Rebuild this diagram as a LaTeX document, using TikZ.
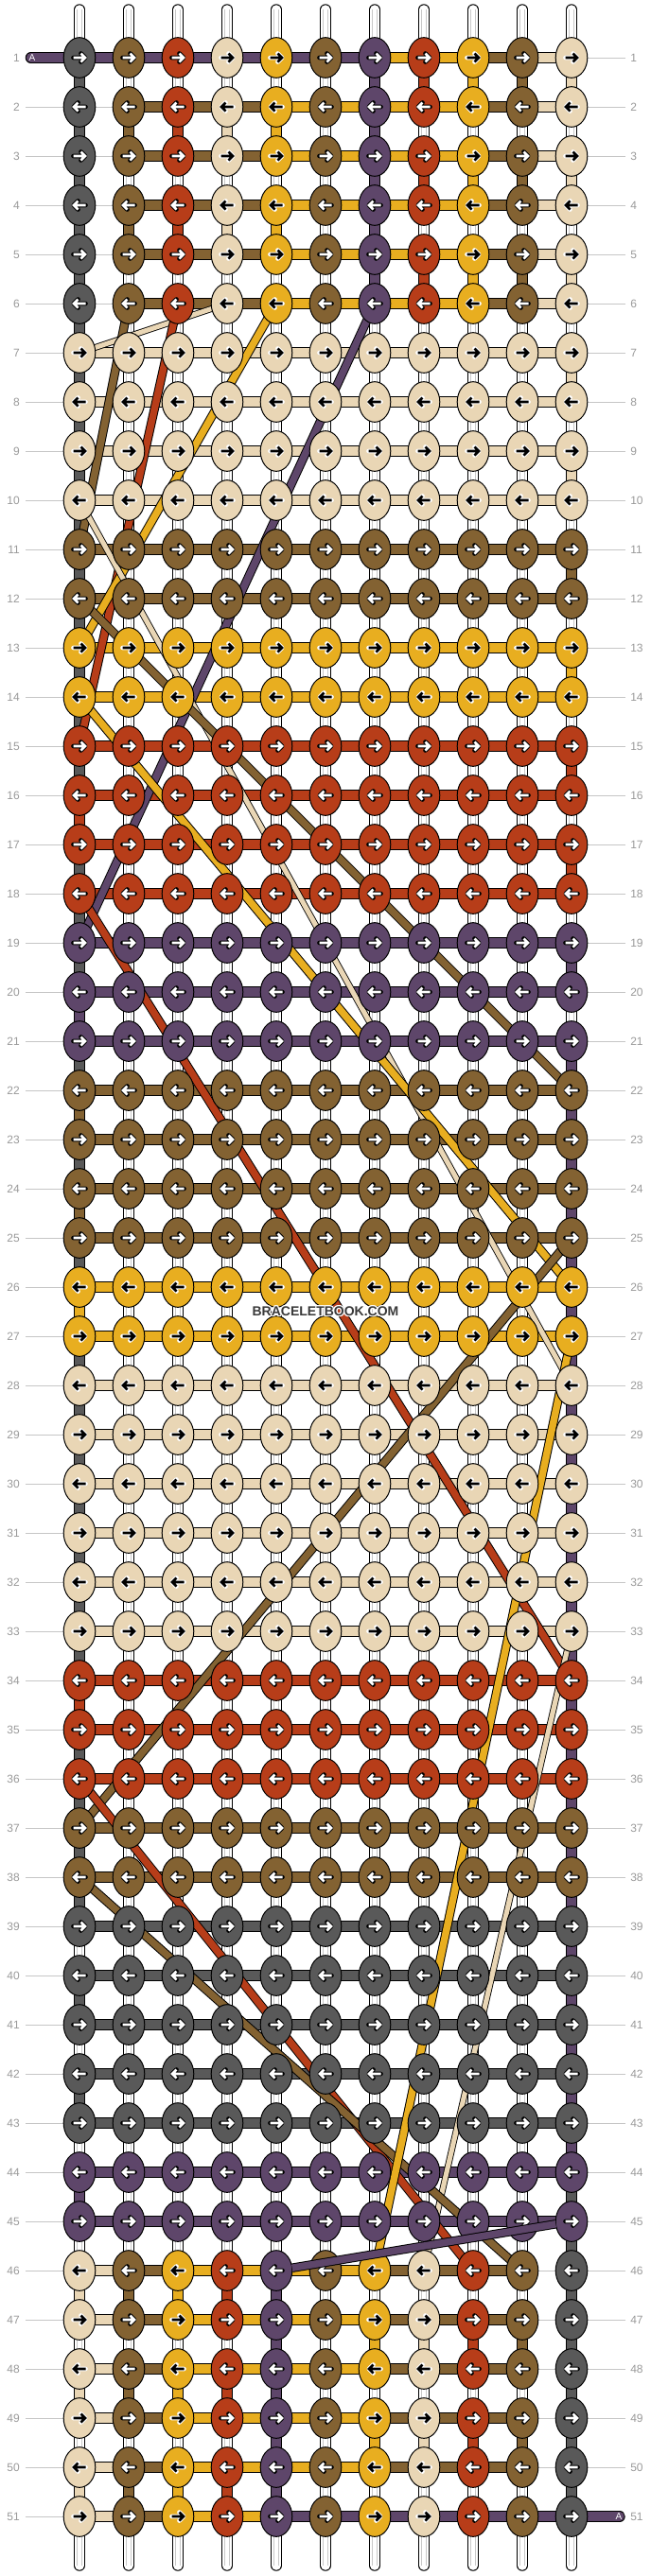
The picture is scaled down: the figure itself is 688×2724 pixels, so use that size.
\documentclass[tikz,border=0pt]{standalone}
\usepackage{fontspec}
\setmainfont{Liberation Sans}
\usetikzlibrary{shapes.geometric}
\definecolor{cG}{HTML}{595959}
\definecolor{cB}{HTML}{836232}
\definecolor{cR}{HTML}{B73D19}
\definecolor{cC}{HTML}{E9D6B5}
\definecolor{cY}{HTML}{E8AE20}
\definecolor{cP}{HTML}{5E466A}
\definecolor{labgrey}{HTML}{9A9A9A}
\definecolor{linegrey}{HTML}{C6C6C6}
\definecolor{tubegrey}{HTML}{C8C8C8}
\definecolor{wmgrey}{HTML}{3A3A3A}
\tikzset{
  knot/.style={ellipse, draw=black, line width=0.75pt, minimum width=25.2pt, minimum height=32pt, inner sep=0pt, outer sep=0pt},
  lbl/.style={text=labgrey, font=\fontsize{9}{10}\selectfont, inner sep=0pt},
  labline/.style={draw=linegrey, line width=0.75pt},
  segout/.style={line width=8.6pt, draw=black},
  segin/.style={line width=7.1pt},
  tubeout/.style={line width=8.6pt, draw=black},
  tubein/.style={line width=7.1pt, draw=white},
  tubeline/.style={line width=0.45pt, draw=tubegrey},
  diagout/.style={line width=7.1pt, draw=black},
  diagin/.style={line width=5.6pt},
  thinout/.style={line width=5.2pt, draw=black},
  thinin/.style={line width=3.9pt, draw=cC},
  wm/.style={font=\fontsize{10.5}{12}\selectfont\bfseries, inner sep=0pt},
  leadtxt/.style={text=white, font=\fontsize{7.5}{8}\selectfont, inner sep=0pt},
}
\def\codeW{W}\def\codeN{N}\def\codeC{C}\def\codeY{Y}
\newcommand\tubeseg[2]{%
  \draw[tubeout] (#1) -- (#2);
  \draw[tubein] (#1) -- (#2);
  \draw[tubeline, transform canvas={xshift=-1.9pt}] (#1) -- (#2);
  \draw[tubeline, transform canvas={xshift=1.9pt}] (#1) -- (#2);}
\newcommand\colseg[3]{%
  \draw[segout] (#1) -- (#2);
  \draw[segin, draw=c#3] (#1) -- (#2);}
\newcommand\vseg[3]{\edef\tmpcode{#3}%
  \ifx\tmpcode\codeW \tubeseg{#1}{#2}\else \colseg{#1}{#2}{\tmpcode}\fi}
\newcommand\hseg[3]{\edef\tmpcode{#3}%
  \ifx\tmpcode\codeN \else \colseg{#1}{#2}{\tmpcode}\fi}
\newcommand\vrow[2]{\foreach \v [count=\c] in {#2}{%
  \pgfmathtruncatemacro\rn{#1+1}%
  \vseg{p-#1-\c}{p-\rn-\c}{\v}}}
\newcommand\hrow[2]{\foreach \h [count=\c] in {#2}{%
  \pgfmathtruncatemacro\cn{\c+1}%
  \hseg{p-#1-\c}{p-#1-\cn}{\h}}}
\newcommand\arrowin[3]{\edef\tmpk{#3}%
  \ifx\tmpk\codeC \def\afill{black}\def\aout{white}\else
  \ifx\tmpk\codeY \def\afill{black}\def\aout{white}\else
  \def\afill{white}\def\aout{black}\fi\fi
  \ifodd#1\relax\def\adir{1}\else\def\adir{-1}\fi
  \draw[shift={(k-#1-#2.center)}, xscale=\adir, draw=\aout, line width=3.5pt, line cap=round, line join=round] (-6.5,0) -- (5.5,0) (1.5,-4.5) -- (6,0) -- (1.5,4.5);
  \draw[shift={(k-#1-#2.center)}, xscale=\adir, draw=\afill, line width=2pt, line cap=butt, line join=miter] (-6.5,0) -- (5.5,0) (1.5,-4.5) -- (6,0) -- (1.5,4.5);}
\newcommand\knotrow[2]{\foreach \k [count=\c] in {#2}{%
  \node[knot, fill=c\k] (k-#1-\c) at (p-#1-\c) {};
  \arrowin{#1}{\c}{\k}}}
\newcommand\diag[3]{\draw[diagout] (#1) -- (#2); \draw[diagin, draw=#3] (#1) -- (#2);}
\newcommand\diagthin[2]{\draw[thinout] (#1) -- (#2); \draw[thinin] (#1) -- (#2);}

\begin{document}
\begin{tikzpicture}[x=0.75pt,y=-0.75pt]
\fill[white] (0,0) rectangle (688,2724);
\useasboundingbox (0,0) rectangle (688,2724);
% grid coordinates
\foreach \r in {1,...,51}{\foreach \c in {1,...,11}{\coordinate (p-\r-\c) at ({32+52*\c},{9+52*\r});}}
% row guide lines
\foreach \r in {1,...,51}{
  \coordinate (ll-\r) at (27,{9+52*\r});
  \coordinate (lr-\r) at (661,{9+52*\r});
  \draw[labline] (ll-\r) -- (lr-\r);
}
% top and bottom base strings
\foreach \c in {1,...,11}{
  \coordinate (top-\c) at ({32+52*\c},10);
  \coordinate (bot-\c) at ({32+52*\c},2713);
  \draw[tubeout, line cap=round] (top-\c) -- (p-1-\c);
  \draw[tubein, line cap=round] (top-\c) -- (p-1-\c);
  \draw[tubeline, transform canvas={xshift=-1.9pt}] (top-\c) -- (p-1-\c);
  \draw[tubeline, transform canvas={xshift=1.9pt}] (top-\c) -- (p-1-\c);
  \draw[tubeout, line cap=round] (p-51-\c) -- (bot-\c);
  \draw[tubein, line cap=round] (p-51-\c) -- (bot-\c);
  \draw[tubeline, transform canvas={xshift=-1.9pt}] (p-51-\c) -- (bot-\c);
  \draw[tubeline, transform canvas={xshift=1.9pt}] (p-51-\c) -- (bot-\c);
}
% leads
\coordinate (leadL) at (32.5,61);
\coordinate (leadR) at (655,2661);
\draw[segout, line cap=round] (leadL) -- (p-1-1);
\draw[segin, draw=cP, line cap=round] (leadL) -- (p-1-1);
\draw[segout, line cap=round] (p-51-11) -- (leadR);
\draw[segin, draw=cP, line cap=round] (p-51-11) -- (leadR);
% vertical segments
\foreach \r in {1,3,5}{\vrow{\r}{G,W,W,W,W,W,P,R,Y,B,C}}
\foreach \r in {2,4}{\vrow{\r}{G,B,R,C,Y,W,P,W,W,W,W}}
\foreach \r/\a/\b in {6/G/W,7/G/C,8/G/W,9/G/C,10/G/W,11/G/B,12/G/W,13/G/Y,14/G/W,15/G/R,16/R/W,17/G/R,18/G/W,19/G/P,20/P/W,21/G/P,22/B/P,23/G/P,24/B/P,25/G/P,26/Y/P,27/G/P,28/G/P,29/G/P,30/G/P,31/G/P,32/G/P,33/G/P,34/R/P,35/G/P,36/G/P,37/G/P,38/G/P,39/W/P,40/G/P,41/W/P,42/G/P,43/W/P,44/P/G,45/W/G}{\vrow{\r}{\a,W,W,W,W,W,W,W,W,W,\b}}
\foreach \r in {46,48,50}{\vrow{\r}{C,B,Y,R,P,W,W,W,W,W,G}}
\foreach \r in {47,49}{\vrow{\r}{W,W,W,W,P,W,Y,C,R,B,G}}
% horizontal segments
\hrow{1}{P,P,P,P,P,P,Y,Y,B,C}
\foreach \r in {2,...,6}{\hrow{\r}{N,B,B,B,Y,Y,Y,Y,B,C}}
\foreach \r/\X in {7/C,8/C,9/C,10/C,11/B,12/B,13/Y,14/Y,15/R,16/R,17/R,18/R,19/P,20/P,21/P,22/B,23/B,24/B,25/B,26/Y,27/Y,28/C,29/C,30/C,31/C,32/C,33/C,34/R,35/R,36/R,37/B,38/B,39/G,40/G,41/G,42/G,43/G,44/P,45/P}{\hrow{\r}{\X,\X,\X,\X,\X,\X,\X,\X,\X,\X}}
\foreach \r in {46,...,50}{\hrow{\r}{C,B,Y,Y,Y,Y,B,B,B,N}}
\hrow{51}{C,B,Y,Y,P,P,P,P,P,P}
% carried strings (diagonals)
\diagthin{p-6-4}{p-7-1}
\diag{p-6-2}{p-11-1}{cB}
\diag{p-6-3}{p-15-1}{cR}
\diag{p-6-5}{p-13-1}{cY}
\diag{p-6-7}{p-19-1}{cP}
\diagthin{p-10-1}{p-28-11}
\diag{p-12-1}{p-22-11}{cB}
\diag{p-14-1}{p-26-11}{cY}
\diag{p-18-1}{p-34-11}{cR}
\diag{p-25-11}{p-37-1}{cB}
\diagthin{p-33-11}{p-46-8}
\diag{p-36-1}{p-46-9}{cR}
\diag{p-38-1}{p-46-10}{cB}
\diag{p-27-11}{p-46-7}{cY}
% knots
\foreach \r in {1,...,6}{\knotrow{\r}{G,B,R,C,Y,B,P,R,Y,B,C}}
\foreach \r/\X in {7/C,8/C,9/C,10/C,11/B,12/B,13/Y,14/Y,15/R,16/R,17/R,18/R,19/P,20/P,21/P,22/B,23/B,24/B,25/B,26/Y,27/Y,28/C,29/C,30/C,31/C,32/C,33/C,34/R,35/R,36/R,37/B,38/B,39/G,40/G,41/G,42/G,43/G,44/P,45/P}{\knotrow{\r}{\X,\X,\X,\X,\X,\X,\X,\X,\X,\X,\X}}
\foreach \r in {46,...,51}{\knotrow{\r}{C,B,Y,R,P,B,Y,C,R,B,G}}
% purple string passing over row 46
\draw[diagout] (k-45-11) -- (k-46-5);
\draw[diagin, draw=cP] (k-45-11) -- (k-46-5);
% lead letters
\node[leadtxt] (aL) at (34,61) {A};
\node[leadtxt] (aR) at (654,2661) {A};
% row labels
\foreach \r in {1,...,51}{
  \node[lbl, anchor=east] (nl-\r) at (21,{9+52*\r}) {\r};
  \node[lbl, anchor=west] (nr-\r) at (666,{9+52*\r}) {\r};
}
% watermark
\foreach \dx/\dy [count=\i] in {1/0,-1/0,0/1,0/-1,1/1,1/-1,-1/1,-1/-1}{
  \node[wm, text=white] (wmh\i) at ({344+\dx},{1387+\dy}) {BRACELETBOOK.COM};
}
\node[wm, text=wmgrey] (wm) at (344,1387) {BRACELETBOOK.COM};
\end{tikzpicture}
\end{document}
